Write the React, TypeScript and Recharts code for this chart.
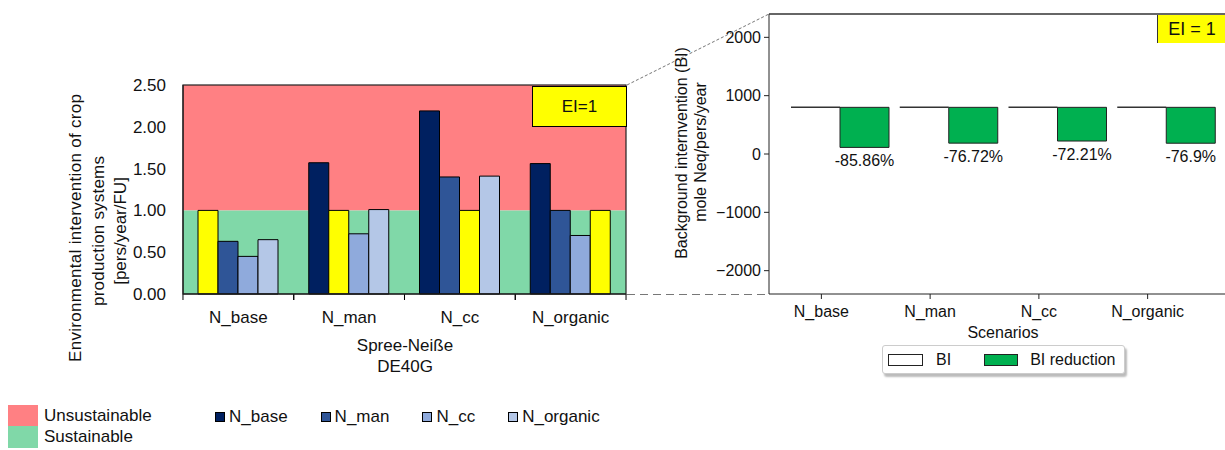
import { Bar, BarChart, Cell, LabelList, ReferenceArea, XAxis, YAxis } from "recharts";

const scenarios = ["N_base", "N_man", "N_cc", "N_organic"];

// left: EI of each system, one array per series
const nBase = [1.0, 1.57, 2.19, 1.56];
const nMan = [0.63, 1.0, 1.4, 1.0];
const nCc = [0.45, 0.72, 1.0, 0.7];
const nOrganic = [0.65, 1.01, 1.41, 1.0];
const eiTicks = [0, 0.5, 1, 1.5, 2, 2.5];
const eiLimit = 1;

// right: background intervention and its reduction
const biValues = [800, 800, 800, 800];
const biReductionPct = [-85.86, -76.72, -72.21, -76.9];
const biTicks = [-2000, -1000, 0, 1000, 2000];

const seriesColors = ["#002060", "#2F5597", "#8FAADC", "#B4C7E7"];
const yellow = "#FFFF00";
const red = "#FF8083";
const green = "#80D8A8";

const eiData = scenarios.map((s, i) => ({
  name: s,
  N_base: nBase[i],
  N_man: nMan[i],
  N_cc: nCc[i],
  N_organic: nOrganic[i],
}));

const biData = scenarios.map((s, i) => ({
  name: s,
  bi: biValues[i],
  reduction: [biValues[i] * (1 + biReductionPct[i] / 100), biValues[i]],
  pct: biReductionPct[i],
}));

const fmtMinus = (v: number) => (v < 0 ? `\u2212${Math.abs(v)}` : `${v}`);

const LeftTick = ({ x, y, payload }: any) => {
  const axisY = y - 8;
  return (
    <g>
      <line x1={x - 55.4} x2={x - 55.4} y1={axisY} y2={axisY + 6} stroke="#000" />
      <line x1={x + 55.4} x2={x + 55.4} y1={axisY} y2={axisY + 6} stroke="#000" />
      <text x={x} y={axisY + 23} textAnchor="middle" dominantBaseline="central" fontSize={17} fill="#111">
        {payload.value}
      </text>
    </g>
  );
};

const RightTick = ({ x, y, payload }: any) => {
  const axisY = y - 8;
  const tx = x - 19;
  return (
    <g>
      <line x1={tx} x2={tx} y1={axisY} y2={axisY + 5} stroke="#222" />
      <text x={tx} y={axisY + 17} textAnchor="middle" dominantBaseline="central" fontSize={16} fill="#111">
        {payload.value}
      </text>
    </g>
  );
};

const BiShape = (props: any) => {
  const { x, y, width, height } = props;
  return (
    <g>
      <rect x={x} y={y} width={width} height={height} fill="#fff" />
      <line x1={x} x2={x + width} y1={y} y2={y} stroke="#333" strokeWidth={1.5} />
    </g>
  );
};

const PctLabel = (props: any) => {
  const { x, y, width, height, value } = props;
  const bottom = Math.max(y, y + height);
  return (
    <text x={x + width / 2} y={bottom + 13} textAnchor="middle" dominantBaseline="central" fontSize={16} fill="#111">
      {value}%
    </text>
  );
};

export default function App() {
  return (
    <div
      style={{
        position: "absolute",
        left: 0,
        top: 0,
        width: 1225,
        height: 450,
        overflow: "hidden",
        background: "#fff",
        fontFamily: '"Liberation Sans", Arial, sans-serif',
      }}
    >
      <div style={{ position: "absolute", left: 0, top: 0 }}>
        <BarChart
          width={640}
          height={380}
          data={eiData}
          margin={{ top: 85, right: 14, bottom: 56, left: 123 }}
          barSize={20}
          barGap={0}
        >
          <ReferenceArea y1={eiLimit} y2={2.5} fill={red} fillOpacity={1} stroke="none" />
          <ReferenceArea y1={0} y2={eiLimit} fill={green} fillOpacity={1} stroke="none" />
          <XAxis dataKey="name" height={30} tickLine={false} stroke="#000" tick={<LeftTick />} />
          <YAxis
            width={60}
            domain={[0, 2.5]}
            ticks={eiTicks}
            tickFormatter={(v) => v.toFixed(2)}
            tickLine={false}
            tickSize={15}
            tickMargin={2}
            stroke="#000"
            tick={{ fontSize: 17, fill: "#111" }}
          />
          {scenarios.map((key, j) => (
            <Bar key={key} dataKey={key} fill={seriesColors[j]} stroke="#000" strokeWidth={1} isAnimationActive={false}>
              {eiData.map((_, i) => (
                <Cell key={i} fill={i === j ? yellow : seriesColors[j]} />
              ))}
            </Bar>
          ))}
        </BarChart>
      </div>

      <div style={{ position: "absolute", left: 640, top: 0 }}>
        <BarChart
          width={585}
          height={380}
          data={biData}
          margin={{ top: 14, right: 0, bottom: 56, left: 69 }}
          barSize={49}
          barGap={0}
        >
          <XAxis
            dataKey="name"
            height={30}
            padding={{ left: 17, right: 4 }}
            tickLine={false}
            stroke="#222"
            tick={<RightTick />}
          />
          <YAxis
            width={60}
            domain={[-2400, 2400]}
            ticks={biTicks}
            tickFormatter={fmtMinus}
            tickSize={5}
            tickMargin={3}
            stroke="#222"
            tick={{ fontSize: 16, fill: "#111" }}
          />
          <Bar dataKey="bi" fill="#fff" shape={<BiShape />} isAnimationActive={false} />
          <Bar dataKey="reduction" fill="#00B050" stroke="#222" strokeWidth={1} isAnimationActive={false}>
            <LabelList dataKey="pct" content={<PctLabel />} />
          </Bar>
        </BarChart>
      </div>

      <svg width={1225} height={450} style={{ position: "absolute", left: 0, top: 0, pointerEvents: "none" }}>
        <rect x={183} y={85} width={443} height={209} fill="none" stroke="#222" strokeWidth={1.2} />
        <line x1={769} x2={1225} y1={14} y2={14} stroke="#333" strokeWidth={1.5} />
        <line x1={627} y1={85} x2={769} y2={14} stroke="#777" strokeDasharray="3 2" />
        <line x1={627} y1={294.5} x2={769} y2={294.5} stroke="#777" strokeDasharray="8 5" />
        <text transform="translate(75,228) rotate(-90)" textAnchor="middle" dominantBaseline="central" fontSize={17} fill="#111" textLength={268} lengthAdjust="spacing">
          Environmental intervention of crop
        </text>
        <text transform="translate(98,231) rotate(-90)" textAnchor="middle" dominantBaseline="central" fontSize={17} fill="#111" textLength={150} lengthAdjust="spacing">
          production systems
        </text>
        <text transform="translate(120,231) rotate(-90)" textAnchor="middle" dominantBaseline="central" fontSize={17} fill="#111">
          [pers/year/FU]
        </text>
        <text x={405} y={345} textAnchor="middle" dominantBaseline="central" fontSize={17} fill="#111">
          Spree-Neiße
        </text>
        <text x={405} y={366} textAnchor="middle" dominantBaseline="central" fontSize={17} fill="#111">
          DE40G
        </text>
        <text transform="translate(681,153) rotate(-90)" textAnchor="middle" dominantBaseline="central" fontSize={16} fill="#111">
          Background internvention (BI)
        </text>
        <text transform="translate(700,152) rotate(-90)" textAnchor="middle" dominantBaseline="central" fontSize={16} fill="#111">
          mole Neq/pers/year
        </text>
        <text x={1003} y={332} textAnchor="middle" dominantBaseline="central" fontSize={16} fill="#111">
          Scenarios
        </text>
      </svg>

      <div
        style={{
          position: "absolute",
          left: 532,
          top: 86,
          width: 93,
          height: 39,
          background: yellow,
          border: "1px solid #000",
          display: "flex",
          alignItems: "center",
          justifyContent: "center",
          fontSize: 17,
          color: "#111",
        }}
      >
        EI=1
      </div>
      <div
        style={{
          position: "absolute",
          left: 1157,
          top: 15,
          width: 68,
          height: 28,
          background: yellow,
          borderLeft: "1px solid #333",
          display: "flex",
          alignItems: "center",
          justifyContent: "center",
          fontSize: 18,
          color: "#111",
        }}
      >
        EI = 1
      </div>

      <div
        style={{
          position: "absolute",
          left: 882,
          top: 345,
          width: 241,
          height: 27,
          border: "1px solid #ccc",
          borderRadius: 3,
          boxShadow: "2px 3px 2px #bbb",
          background: "#fff",
          display: "flex",
          alignItems: "center",
          fontSize: 16,
          color: "#111",
        }}
      >
        <span style={{ marginLeft: 5, width: 33, height: 10, border: "1.5px solid #222", background: "#fff" }} />
        <span style={{ marginLeft: 13 }}>BI</span>
        <span style={{ marginLeft: 33, width: 32, height: 10, border: "1.5px solid #222", background: "#00B050" }} />
        <span style={{ marginLeft: 12 }}>BI reduction</span>
      </div>

      <div style={{ position: "absolute", left: 8, top: 405, fontSize: 17, color: "#111" }}>
        <div style={{ display: "flex", alignItems: "center", height: 21 }}>
          <span style={{ width: 30, height: 21, background: red }} />
          <span style={{ marginLeft: 6 }}>Unsustainable</span>
        </div>
        <div style={{ display: "flex", alignItems: "center", height: 22 }}>
          <span style={{ width: 30, height: 22, background: green }} />
          <span style={{ marginLeft: 6 }}>Sustainable</span>
        </div>
      </div>

      <div style={{ position: "absolute", left: 215, top: 406, height: 22, display: "flex", alignItems: "center", gap: 33, fontSize: 17, color: "#111" }}>
        {scenarios.map((s, j) => (
          <div key={s} style={{ display: "flex", alignItems: "center" }}>
            <span style={{ width: 8, height: 8, border: "1px solid #000", background: seriesColors[j] }} />
            <span style={{ marginLeft: 4 }}>{s}</span>
          </div>
        ))}
      </div>
    </div>
  );
}
